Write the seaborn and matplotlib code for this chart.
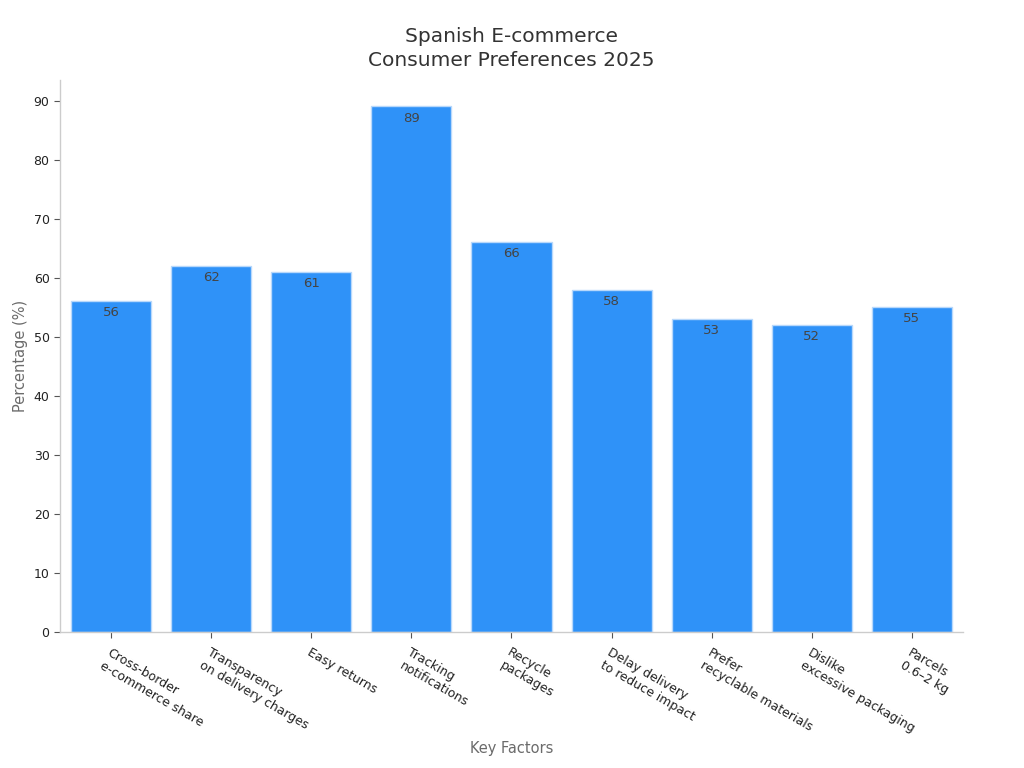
import matplotlib
matplotlib.use("Agg")
import matplotlib.pyplot as plt
import seaborn as sns
import pandas as pd

# --- DATA ---
categories = [
    "Cross-border\ne-commerce share",
    "Transparency\non delivery charges",
    "Easy returns",
    "Tracking\nnotifications",
    "Recycle\npackages",
    "Delay delivery\nto reduce impact",
    "Prefer\nrecyclable materials",
    "Dislike\nexcessive packaging",
    "Parcels\n0.6–2 kg",
]
values = [56, 62, 61, 89, 66, 58, 53, 52, 55]

df = pd.DataFrame({"factor": categories, "pct": values})

sns.set_theme(style="white")
plt.rcParams["font.family"] = ["DejaVu Sans"]

fig = plt.figure(figsize=(10.24, 7.68), dpi=100)
ax = fig.add_axes([0.0586, 0.177, 0.8818, 0.719])

sns.barplot(data=df, x="factor", y="pct", color="#2f92f8", saturation=1,
            edgecolor="#b8d8fb", linewidth=1, width=0.8, ax=ax)

for cont in ax.containers:
    ax.bar_label(cont, fmt="%.0f", padding=-13, fontsize=9.5, color="#444444")

ax.set_ylim(0, 93.5)
ax.set_xlim(-0.51, 8.51)
ax.set_yticks(range(0, 91, 10))

ax.set_title("Spanish E-commerce\nConsumer Preferences 2025", fontsize=14.5,
             color="#333333", pad=10, linespacing=1.35)
ax.set_xlabel("Key Factors", fontsize=10.5, color="#6b6b6b", labelpad=4)
ax.set_ylabel("Percentage (%)", fontsize=10.5, color="#6b6b6b")

ax.tick_params(axis="both", labelsize=9, colors="#222222", length=4,
               width=0.8, bottom=True, left=True)
plt.setp(ax.get_xticklabels(), rotation=-30, ha="left", rotation_mode="anchor")
ax.tick_params(axis="x", color="#555555", pad=6)
ax.tick_params(axis="y", color="#555555")

sns.despine(ax=ax)
for s in ["left", "bottom"]:
    ax.spines[s].set_color("#cccccc")
    ax.spines[s].set_linewidth(1)

fig.savefig("out.png", dpi=100)
